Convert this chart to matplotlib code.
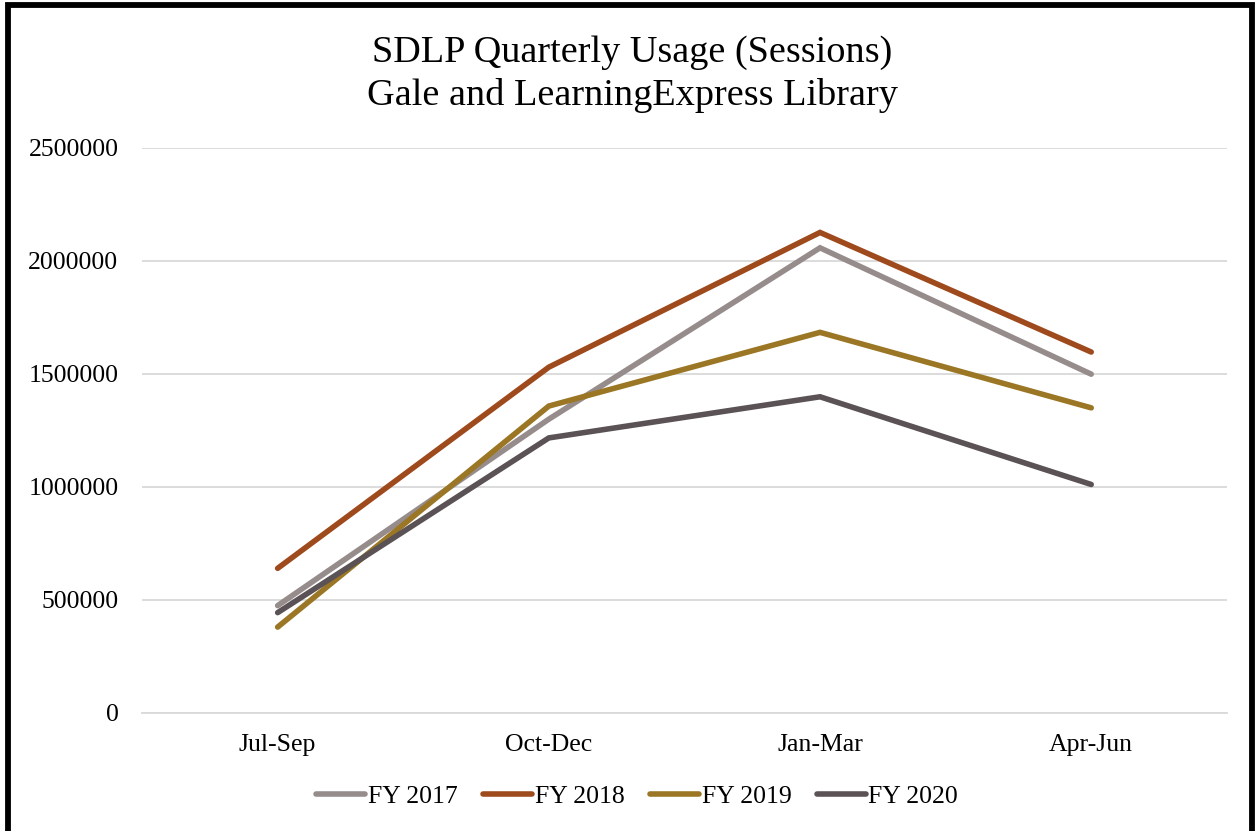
import matplotlib.pyplot as plt
from matplotlib.patches import Rectangle

# data
quarters = ["Jul-Sep", "Oct-Dec", "Jan-Mar", "Apr-Jun"]
fy2017 = [475000, 1300000, 2058000, 1499000]
fy2018 = [640000, 1530000, 2126000, 1597000]
fy2019 = [380000, 1358000, 1684000, 1350000]
fy2020 = [444000, 1217000, 1399000, 1011000]
series_names = ["FY 2017", "FY 2018", "FY 2019", "FY 2020"]
colors = ["#968C8C", "#9E4A1C", "#9B7624", "#5A5254"]

plt.rcParams["font.family"] = ["Liberation Serif", "DejaVu Serif"]

fig = plt.figure(figsize=(12.57, 8.31), dpi=100)
ax = fig.add_axes([0.113, 0.142, 0.863, 0.680])

x = range(len(quarters))
for vals, name, c in zip([fy2017, fy2018, fy2019, fy2020], series_names, colors):
    ax.plot(x, vals, color=c, lw=4.0, label=name, solid_capstyle="round",
            solid_joinstyle="miter")

ax.set_xlim(-0.5, 3.5)
ax.set_ylim(0, 2500000)
ax.set_yticks(range(0, 2500001, 500000))
ax.set_yticklabels([str(v) for v in range(0, 2500001, 500000)])
ax.set_xticks(list(x))
ax.set_xticklabels(quarters)
ax.yaxis.grid(True, color="#D9D9D9", lw=1.3)
ax.set_axisbelow(True)
for s in ax.spines.values():
    s.set_visible(False)
ax.spines["bottom"].set_visible(True)
ax.spines["bottom"].set_color("#D9D9D9")
ax.spines["bottom"].set_linewidth(1.3)
ax.tick_params(length=0, labelsize=18.5, colors="black")
ax.tick_params(axis="x", pad=15)
ax.tick_params(axis="y", pad=17)

fig.text(0.503, 0.911, "SDLP Quarterly Usage (Sessions)\nGale and LearningExpress Library",
         ha="center", va="center", fontsize=27.5, linespacing=1.3)

ax.legend(loc="center", bbox_to_anchor=(0.507, 0.042), bbox_transform=fig.transFigure,
          ncol=4, frameon=False, fontsize=18.5, handlelength=1.9, handletextpad=0.1,
          columnspacing=1.0)

fig.patches.append(Rectangle((0.0062, -0.05), 0.9895, 1.0435, transform=fig.transFigure,
                             fill=False, edgecolor="black", lw=4.2, figure=fig))

fig.savefig("out.png", dpi=100)
